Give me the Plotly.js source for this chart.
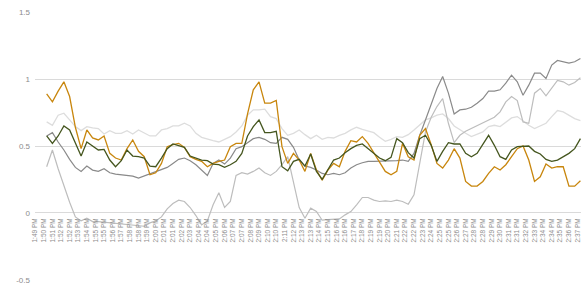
<!DOCTYPE html>
<html>
<head>
<meta charset="utf-8">
<script src="https://cdn.plot.ly/plotly-3.0.1.min.js"></script>
<style>html,body{margin:0;padding:0;background:#fff;}#chart{width:581px;height:293px;}</style>
</head>
<body>
<div id="chart"></div>
<script>
// Series values (one reading every 30 s, starting 1:50:50 PM)
const startTime = "2024-01-01 13:50:50";
const stepSeconds = 30;

const orange = [
0.89, 0.83, 0.91, 0.98, 0.87, 0.64, 0.48, 0.62, 0.56, 0.545,
0.575, 0.445, 0.41, 0.395, 0.48, 0.545, 0.46, 0.42, 0.285, 0.30,
0.37, 0.495, 0.51, 0.52, 0.49, 0.42, 0.40, 0.385, 0.345, 0.37,
0.385, 0.395, 0.495, 0.52, 0.52, 0.74, 0.92, 0.98, 0.82, 0.82,
0.84, 0.495, 0.37, 0.445, 0.395, 0.31, 0.445, 0.32, 0.245, 0.32,
0.37, 0.345, 0.46, 0.54, 0.53, 0.57, 0.52, 0.445, 0.38, 0.31,
0.285, 0.31, 0.52, 0.42, 0.395, 0.58, 0.63, 0.51, 0.37, 0.335,
0.395, 0.48, 0.41, 0.235, 0.20, 0.20, 0.235, 0.295, 0.345, 0.32,
0.36, 0.42, 0.48, 0.50, 0.395, 0.235, 0.27, 0.365, 0.335, 0.345,
0.345, 0.20, 0.20, 0.24];

const green = [
0.575, 0.52, 0.575, 0.65, 0.62, 0.525, 0.425, 0.53, 0.50, 0.47,
0.475, 0.395, 0.345, 0.39, 0.47, 0.425, 0.42, 0.41, 0.35, 0.345,
0.41, 0.48, 0.515, 0.50, 0.49, 0.425, 0.41, 0.395, 0.39, 0.365,
0.36, 0.34, 0.36, 0.385, 0.445, 0.575, 0.645, 0.695, 0.60, 0.60,
0.61, 0.345, 0.315, 0.385, 0.40, 0.35, 0.44, 0.31, 0.25, 0.32,
0.395, 0.41, 0.45, 0.48, 0.505, 0.515, 0.48, 0.445, 0.41, 0.39,
0.415, 0.555, 0.525, 0.45, 0.41, 0.555, 0.58, 0.505, 0.385, 0.46,
0.525, 0.515, 0.515, 0.445, 0.42, 0.445, 0.515, 0.58, 0.505, 0.42,
0.40, 0.47, 0.495, 0.50, 0.50, 0.46, 0.44, 0.40, 0.385, 0.395,
0.42, 0.445, 0.48, 0.555];

const grayMid = [
0.575, 0.60, 0.53, 0.47, 0.40, 0.34, 0.31, 0.35, 0.32, 0.31,
0.33, 0.30, 0.29, 0.285, 0.28, 0.275, 0.26, 0.275, 0.29, 0.305,
0.32, 0.34, 0.37, 0.40, 0.41, 0.39, 0.36, 0.32, 0.28, 0.37,
0.395, 0.365, 0.41, 0.48, 0.495, 0.525, 0.555, 0.565, 0.55, 0.525,
0.52, 0.565, 0.55, 0.49, 0.395, 0.35, 0.34, 0.32, 0.295, 0.285,
0.295, 0.285, 0.30, 0.335, 0.36, 0.375, 0.385, 0.385, 0.385, 0.385,
0.385, 0.39, 0.395, 0.385, 0.445, 0.58, 0.695, 0.82, 0.93, 1.02,
0.895, 0.74, 0.77, 0.775, 0.79, 0.82, 0.855, 0.91, 0.91, 0.92,
0.97, 1.03, 0.98, 0.88, 0.955, 1.045, 1.045, 1.005, 1.105, 1.14,
1.13, 1.12, 1.13, 1.155];

const grayLight = [
0.345, 0.47, 0.33, 0.20, 0.08, -0.03, -0.06, -0.04, -0.065, -0.065,
-0.07, -0.07, -0.08, -0.085, -0.09, -0.095, -0.10, -0.10, -0.075, -0.06,
-0.03, 0.03, 0.07, 0.095, 0.085, 0.04, -0.02, -0.09, -0.06, 0.06,
0.15, 0.04, 0.085, 0.28, 0.30, 0.29, 0.31, 0.335, 0.30, 0.28,
0.31, 0.36, 0.42, 0.22, 0.04, -0.04, 0.035, 0.01, -0.055, -0.05,
-0.05, -0.045, -0.015, 0.01, 0.06, 0.115, 0.115, 0.095, 0.085, 0.09,
0.085, 0.095, 0.085, 0.065, 0.135, 0.37, 0.605, 0.715, 0.795, 0.855,
0.67, 0.525, 0.58, 0.61, 0.63, 0.655, 0.67, 0.69, 0.715, 0.755,
0.83, 0.87, 0.84, 0.68, 0.67, 0.895, 0.93, 0.875, 0.93, 0.99,
0.98, 0.955, 0.975, 1.01];

const grayPale = [
0.68, 0.655, 0.73, 0.745, 0.695, 0.645, 0.615, 0.645, 0.635, 0.63,
0.59, 0.615, 0.595, 0.595, 0.615, 0.59, 0.62, 0.60, 0.575, 0.575,
0.62, 0.63, 0.65, 0.65, 0.67, 0.65, 0.595, 0.565, 0.55, 0.54,
0.53, 0.55, 0.57, 0.605, 0.65, 0.73, 0.77, 0.77, 0.775, 0.72,
0.705, 0.63, 0.58, 0.595, 0.62, 0.585, 0.555, 0.58, 0.55, 0.565,
0.56, 0.58, 0.595, 0.62, 0.64, 0.625, 0.61, 0.60, 0.565, 0.535,
0.55, 0.57, 0.565, 0.585, 0.62, 0.655, 0.695, 0.71, 0.73, 0.74,
0.705, 0.65, 0.62, 0.595, 0.57, 0.585, 0.605, 0.645, 0.655, 0.645,
0.68, 0.71, 0.72, 0.685, 0.655, 0.63, 0.65, 0.67, 0.72, 0.765,
0.755, 0.73, 0.705, 0.69];

// Tick labels: y axis values and x-axis time label settings
const yTicks = [-0.5, 0, 0.5, 1, 1.5];
const yTickText = ["-0.5", "0", "0.5", "1", "1.5"];
const xTickStart = "2024-01-01 13:49:50";
const xTickStepMs = 45000;
const xRange = ["2024-01-01 13:49:49", "2024-01-01 14:37:23"];

// time categories for each reading
function pad(n){ return (n < 10 ? "0" : "") + n; }
const base = startTime.split(" ");
const hms = base[1].split(":").map(Number);
const startSec = hms[0]*3600 + hms[1]*60 + hms[2];
const times = orange.map(function(_, i){
  const s = startSec + i*stepSeconds;
  return base[0] + " " + pad(Math.floor(s/3600)) + ":" + pad(Math.floor(s/60)%60) + ":" + pad(s%60);
});

function line(y, color, w){
  return {x: times, y: y, type: "scatter", mode: "lines", hoverinfo: "skip",
          line: {color: color, width: w}};
}

const data = [
  line(grayPale, "#dddddd", 1.3),
  line(grayLight, "#bdbdbd", 1.2),
  line(grayMid, "#8a8a8a", 1.2),
  line(orange, "#c8860d", 1.3),
  line(green, "#45561f", 1.3)
];

const layout = {
  width: 581, height: 293,
  margin: {l: 35, r: 0, t: 12, b: 13, pad: 0},
  paper_bgcolor: "#ffffff", plot_bgcolor: "#ffffff",
  showlegend: false,
  font: {family: "Liberation Sans, Arial, sans-serif", color: "#8c8c8c"},
  xaxis: {
    type: "date", range: xRange,
    tick0: xTickStart, dtick: xTickStepMs, tickformat: "%-I:%M %p",
    tickangle: -90, tickfont: {size: 6.5, color: "#8c8c8c"},
    ticklabelstandoff: 3,
    showgrid: false, zeroline: false, showline: false, ticks: "",
    anchor: "free", position: 0.25, fixedrange: true
  },
  yaxis: {
    range: [-0.502, 1.502], tickvals: yTicks, ticktext: yTickText,
    gridcolor: "#dadada", gridwidth: 1,
    zeroline: true, zerolinecolor: "#dadada", zerolinewidth: 1,
    tickfont: {size: 8, color: "#8c8c8c"}, ticks: "", showline: false,
    ticklabelstandoff: 4,
    fixedrange: true
  }
};

Plotly.newPlot("chart", data, layout, {displayModeBar: false, staticPlot: true});
</script>
</body>
</html>
